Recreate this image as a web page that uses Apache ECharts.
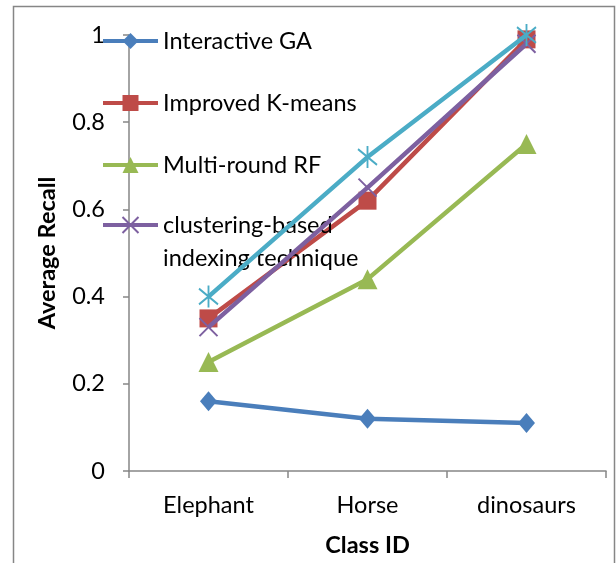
<!DOCTYPE html>
<html>
<head>
<meta charset="utf-8">
<script src="https://cdn.jsdelivr.net/npm/echarts@6/dist/echarts.min.js"></script>
<style>
html,body{margin:0;padding:0;background:#fff;}
#chart{width:616px;height:563px;}
</style>
</head>
<body>
<div id="chart"></div>
<script>
var categories = ['Elephant', 'Horse', 'dinosaurs'];
var yTicks = [0, 0.2, 0.4, 0.6, 0.8, 1];
var interactiveGA = [0.16, 0.12, 0.11];
var improvedKMeans = [0.35, 0.62, 0.99];
var multiRoundRF = [0.25, 0.44, 0.75];
var clusteringIndexing = [0.33, 0.65, 0.98];
var series5 = [0.40, 0.72, 1.0];

var FONT = 'Lato';
var FS = 23.5;
var AXIS = '#868686';

var names = ['Interactive GA', 'Improved K-means', 'Multi-round RF', 'clustering-based indexing technique', 'Series5'];
var colors = ['#4A7EBB', '#BE4B48', '#98B954', '#7D60A0', '#4BACC6'];

var crossPath = 'path://M0,0L10,10M10,0L0,10';
var starPath = 'path://M0,2L10,12M10,2L0,12M5,0L5,14';

function mkSeries(i, data, symbol, size, open) {
  return {
    type: 'line',
    name: names[i],
    data: data,
    symbol: symbol,
    symbolSize: size,
    showAllSymbol: true,
    lineStyle: { color: colors[i], width: 4.5 },
    itemStyle: open ? { color: 'none', borderColor: colors[i], borderWidth: 2 } : { color: colors[i], borderWidth: 0 },
    emphasis: { disabled: true },
    z: 2 + i
  };
}

function mkLegend(i, top, fmt, extraText) {
  var ts = { fontFamily: FONT, fontSize: FS, color: '#000', lineHeight: 26 };
  if (extraText) { for (var k in extraText) ts[k] = extraText[k]; }
  var open = (i === 3);
  return {
    data: [names[i]],
    left: 101,
    top: top,
    padding: 0,
    orient: 'vertical',
    itemWidth: 55,
    itemHeight: 20,
    itemGap: 0,
    selectedMode: false,
    textStyle: ts,
    formatter: fmt || '{name}',
    lineStyle: { width: 4, color: colors[i] },
    itemStyle: open ? { color: 'none', borderColor: colors[i], borderWidth: 2 } : { color: colors[i], borderWidth: 0 }
  };
}

var chart = echarts.init(document.getElementById('chart'), null, { renderer: 'canvas' });
chart.setOption({
  animation: false,
  backgroundColor: '#fff',
  graphic: [{
    type: 'rect',
    shape: { x: 13.5, y: 6.5, width: 601, height: 600 },
    style: { fill: 'none', stroke: AXIS, lineWidth: 1.5 },
    silent: true, z: 0
  }],
  grid: { left: 129, top: 35, right: 10, bottom: 92, containLabel: false },
  legend: [
    mkLegend(0, 28),
    mkLegend(1, 90),
    mkLegend(2, 152),
    mkLegend(3, 175.5, function () { return ' \nclustering-based\nindexing technique'; }, { lineHeight: 33 })
  ],
  xAxis: {
    type: 'category',
    data: categories,
    boundaryGap: true,
    name: 'Class ID',
    nameLocation: 'middle',
    nameGap: 62,
    nameTextStyle: { fontFamily: FONT, fontSize: FS, fontWeight: 'bold', color: '#000' },
    axisLine: { lineStyle: { color: AXIS, width: 1.5 } },
    axisTick: { show: true, length: 7, lineStyle: { color: AXIS, width: 1.5 } },
    axisLabel: { fontFamily: FONT, fontSize: FS, color: '#000', margin: 22 },
    splitLine: { show: false }
  },
  yAxis: {
    type: 'value',
    min: yTicks[0],
    max: yTicks[yTicks.length - 1],
    interval: yTicks[1] - yTicks[0],
    name: 'Average Recall',
    nameLocation: 'middle',
    nameGap: 70,
    nameTextStyle: { fontFamily: FONT, fontSize: FS, fontWeight: 'bold', color: '#000' },
    axisLine: { show: true, lineStyle: { color: AXIS, width: 1.5 } },
    axisTick: { show: true, length: 6, lineStyle: { color: AXIS, width: 1.5 } },
    axisLabel: { fontFamily: FONT, fontSize: FS, color: '#000', margin: 24 },
    splitLine: { show: false }
  },
  series: [
    mkSeries(0, interactiveGA, 'diamond', [17, 20], false),
    mkSeries(1, improvedKMeans, 'rect', 18, false),
    mkSeries(2, multiRoundRF, 'triangle', 20, false),
    mkSeries(3, clusteringIndexing, crossPath, 18, true),
    mkSeries(4, series5, starPath, [19, 22], true)
  ]
});
</script>
</body>
</html>
